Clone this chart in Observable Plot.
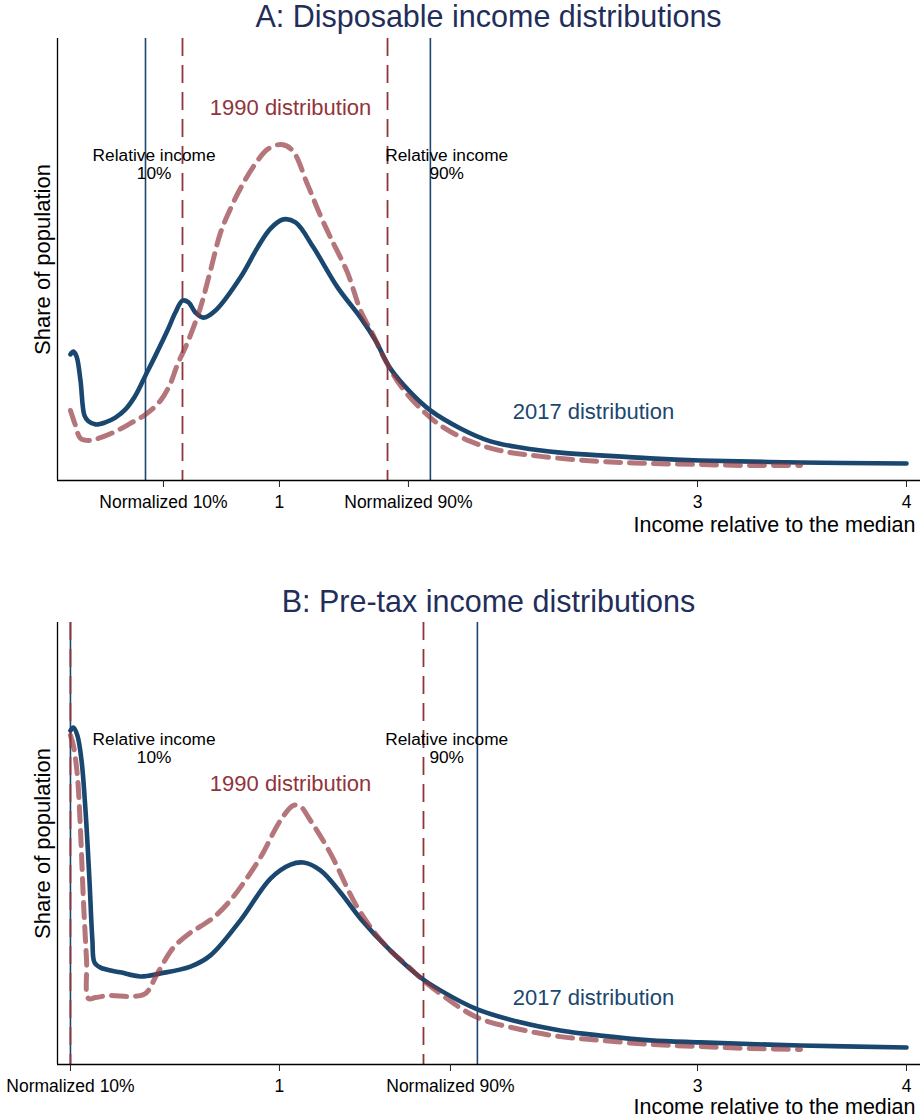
<!DOCTYPE html>
<html>
<head>
<meta charset="utf-8">
<script src="https://cdn.jsdelivr.net/npm/d3@7"></script>
<script src="https://cdn.jsdelivr.net/npm/@observablehq/plot@0.6"></script>
<style>
  html, body { margin: 0; padding: 0; background: white; }
  #page { position: relative; width: 922px; height: 1118px; overflow: hidden; background: white; font-family: "Liberation Sans", Arial, sans-serif; }
  .title { position: absolute; left: 57px; width: 863px; text-align: center; font-size: 30.5px; line-height: 30.5px; color: #1f2e5a; white-space: nowrap; }
  #page svg { position: absolute; left: 0; }
</style>
</head>
<body>
<div id="page">
  <div class="title" style="top:1px">A: Disposable income distributions</div>
  <div class="title" style="top:586px">B: Pre-tax income distributions</div>
</div>
<script>
// ---------- data ----------
// Panel A: disposable income, 2017 (solid blue)
const incomeA2017 = [0, 0.014, 0.029, 0.048, 0.067, 0.086, 0.120, 0.167, 0.215, 0.263, 0.311, 0.359, 0.407, 0.464, 0.502, 0.536, 0.565, 0.598, 0.636, 0.694, 0.813, 0.895, 0.957, 1.019, 1.077, 1.163, 1.278, 1.388, 1.459, 1.531, 1.627, 1.722, 1.866, 2.010, 2.153, 2.344, 2.536, 2.775, 3.014, 3.493, 4.0];
const shareA2017  = [0.371, 0.379, 0.365, 0.294, 0.191, 0.174, 0.165, 0.171, 0.185, 0.209, 0.250, 0.309, 0.368, 0.441, 0.494, 0.529, 0.524, 0.494, 0.479, 0.500, 0.597, 0.685, 0.741, 0.768, 0.759, 0.685, 0.568, 0.479, 0.412, 0.329, 0.259, 0.206, 0.153, 0.115, 0.097, 0.082, 0.074, 0.065, 0.059, 0.053, 0.050];
// Panel A: disposable income, 1990 (dashed red)
const incomeA1990 = [0, 0.024, 0.048, 0.096, 0.144, 0.215, 0.287, 0.359, 0.431, 0.478, 0.512, 0.560, 0.622, 0.670, 0.718, 0.766, 0.813, 0.885, 0.947, 1.010, 1.062, 1.134, 1.196, 1.244, 1.325, 1.388, 1.445, 1.507, 1.579, 1.675, 1.770, 1.914, 2.057, 2.249, 2.536, 2.775, 3.014, 3.254, 3.493];
const shareA1990  = [0.206, 0.162, 0.124, 0.118, 0.126, 0.144, 0.168, 0.194, 0.235, 0.285, 0.341, 0.406, 0.509, 0.618, 0.729, 0.800, 0.859, 0.932, 0.976, 0.988, 0.971, 0.871, 0.779, 0.715, 0.612, 0.500, 0.432, 0.353, 0.279, 0.212, 0.162, 0.115, 0.088, 0.071, 0.056, 0.050, 0.047, 0.044, 0.044];
// Panel B: pre-tax income, 2017 (solid blue)
const incomeB2017 = [0, 0.014, 0.033, 0.053, 0.072, 0.091, 0.105, 0.115, 0.144, 0.239, 0.335, 0.431, 0.574, 0.670, 0.813, 0.957, 1.053, 1.115, 1.196, 1.292, 1.388, 1.531, 1.675, 1.770, 1.947, 2.153, 2.344, 2.536, 2.775, 3.014, 3.493, 4.0];
const shareB2017  = [0.982, 0.991, 0.968, 0.894, 0.747, 0.541, 0.365, 0.300, 0.285, 0.271, 0.259, 0.268, 0.288, 0.321, 0.424, 0.547, 0.588, 0.594, 0.571, 0.506, 0.429, 0.335, 0.256, 0.218, 0.162, 0.124, 0.100, 0.085, 0.071, 0.065, 0.056, 0.050];
// Panel B: pre-tax income, 1990 (dashed red)
const incomeB1990 = [0, 0.014, 0.033, 0.048, 0.062, 0.077, 0.086, 0.120, 0.191, 0.287, 0.359, 0.416, 0.493, 0.574, 0.622, 0.684, 0.756, 0.813, 0.909, 1.005, 1.067, 1.100, 1.148, 1.244, 1.373, 1.498, 1.627, 1.689, 1.794, 1.947, 2.153, 2.344, 2.536, 2.775, 3.014, 3.254, 3.493];
const shareB1990  = [0.968, 0.938, 0.850, 0.688, 0.482, 0.306, 0.194, 0.197, 0.203, 0.200, 0.209, 0.268, 0.344, 0.388, 0.406, 0.432, 0.476, 0.521, 0.609, 0.718, 0.762, 0.759, 0.718, 0.621, 0.462, 0.356, 0.282, 0.247, 0.197, 0.138, 0.103, 0.082, 0.071, 0.059, 0.053, 0.047, 0.044];

// Percentile reference lines
const relativeLinesA   = [0.359, 1.722];   // relative income 10% / 90% (2017, solid)
const normalizedLinesA = [0.536, 1.517];   // 1990 thresholds (dashed)
const relativeLinesB   = [0, 1.947];
const normalizedLinesB = [0, 1.689];

// Axis ticks
const tickLabels = ["Normalized 10%", "1", "Normalized 90%", "3", "4"];
const tickValuesA = [0.445, 1, 1.617, 3, 4];
const tickValuesB = [0, 1, 1.818, 3, 4];

// Annotations
const noteTexts = ["Relative income\n10%", "Relative income\n90%"];
const noteX = [0.40, 1.80];
const noteY = [0.887, 0.887];
const distTexts = ["1990 distribution", "2017 distribution"];
const distXA = [1.053, 2.502];
const distYA = [1.074, 0.182];
const distXB = [1.053, 2.502];
const distYB = [0.803, 0.176];

const xDomain = [-0.062, 4.067];
const yDomain = [0, 1.3];

// ---------- drawing ----------
const BLUE = "#1a476f";
const RED = "#90353b";
const FONT = "Liberation Sans, Arial, sans-serif";

function panel(cfg) {
  const d17 = cfg.x17.map((x, i) => ({x, y: cfg.y17[i]}));
  const d90 = cfg.x90.map((x, i) => ({x, y: cfg.y90[i]}));
  const notes = noteTexts.map((t, i) => ({t, x: noteX[i], y: noteY[i]}));
  const dists = distTexts.map((t, i) => ({t, x: cfg.distX[i], y: cfg.distY[i]}));
  const svg = Plot.plot({
    width: 922,
    height: cfg.height,
    marginTop: 0,
    marginLeft: 57,
    marginRight: 2,
    marginBottom: cfg.height - 442,
    x: {domain: xDomain},
    y: {domain: yDomain, axis: null},
    style: {fontFamily: FONT, fontSize: "17.5px", color: "black", background: "white", overflow: "visible"},
    marks: [
      Plot.ruleX(cfg.rel, {stroke: BLUE, strokeWidth: 1.6}),
      Plot.ruleX(cfg.norm, {stroke: RED, strokeWidth: 1.8, strokeDasharray: "18,9"}),
      Plot.line(d17, {x: "x", y: "y", stroke: BLUE, strokeWidth: 4.6, curve: "catmull-rom", strokeLinejoin: "round", strokeLinecap: "round"}),
      Plot.line(d90, {x: "x", y: "y", stroke: RED, strokeOpacity: 0.68, strokeWidth: 5, curve: "catmull-rom", strokeDasharray: "15,9"}),
      Plot.ruleY([yDomain[0]], {stroke: "black", strokeWidth: 1.3}),
      Plot.ruleX([xDomain[0]], {stroke: "black", strokeWidth: 1.3}),
      Plot.axisX({
        ticks: cfg.ticks,
        tickFormat: (d) => tickLabels[cfg.ticks.indexOf(d)],
        tickSize: 7,
        tickPadding: 8.5,
        label: null,
        fontSize: 17.5,
        stroke: "#222"
      }),
      Plot.text(notes, {x: "x", y: "y", text: "t", lineAnchor: "bottom", lineHeight: 1.05, fontSize: 17.3, fill: "black", textAnchor: "middle"}),
      Plot.text(dists, {x: "x", y: "y", text: "t", lineAnchor: "bottom", fontSize: 22, fill: (d, i) => i === 0 ? RED : BLUE, textAnchor: "middle"}),
      Plot.text(["Share of population"], {frameAnchor: "left", rotate: -90, dx: -15, textAnchor: "middle", lineAnchor: "middle", fontSize: 22, fill: "black"}),
      Plot.text(["Income relative to the median"], {frameAnchor: "bottom-right", dx: -5, dy: cfg.titleDy, textAnchor: "end", lineAnchor: "bottom", fontSize: 21.5, fill: "black"})
    ]
  });
  svg.style.top = cfg.top + "px";
  return svg;
}

const page = document.getElementById("page");
page.appendChild(panel({
  top: 38, height: 520, titleDy: 51,
  x17: incomeA2017, y17: shareA2017, x90: incomeA1990, y90: shareA1990,
  rel: relativeLinesA, norm: normalizedLinesA, ticks: tickValuesA,
  distX: distXA, distY: distYA
}));
page.appendChild(panel({
  top: 622, height: 496, titleDy: 49.5,
  x17: incomeB2017, y17: shareB2017, x90: incomeB1990, y90: shareB1990,
  rel: relativeLinesB, norm: normalizedLinesB, ticks: tickValuesB,
  distX: distXB, distY: distYB
}));
</script>
</body>
</html>
